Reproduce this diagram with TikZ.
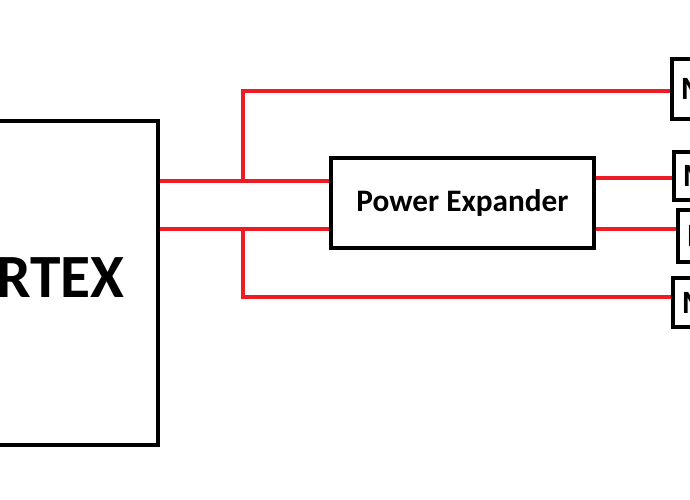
\documentclass[tikz,border=0pt]{standalone}
\usepackage{fontspec}
\setmainfont{Carlito}
\usetikzlibrary{positioning}

\begin{document}
\begin{tikzpicture}[
  x=0.02cm, y=-0.02cm,
  font=\bfseries,
  blk/.style={draw=black, line width=2.2pt, fill=white, inner sep=0pt},
  mbox/.style={blk, anchor=west, minimum width=1.2cm, text width=1.2cm,
    align=left, font=\bfseries\fontsize{18.5}{20}\selectfont},
  wire/.style={draw={rgb,255:red,237;green,28;blue,36}, line width=2pt},
]
\useasboundingbox (0,0) rectangle (690,500);
\clip (0,0) rectangle (690,500);
% ---------------- main unit (cut at the left edge) ----------------
\node[blk, minimum width=3.96cm, minimum height=6.48cm] (core) at (59,283) {};
\node[anchor=east, inner sep=0pt, font=\bfseries\fontsize{35}{38}\selectfont]
  (corename) at (125,278) {RTEX};
% ---------------- expander ----------------
\node[blk, minimum width=5.26cm, minimum height=1.8cm,
  font=\bfseries\fontsize{17.8}{20}\selectfont] (pe) at (462.5,203) {Power Expander};
% ---------------- outputs (cut at the right edge) ----------------
\node[mbox, minimum height=1.2cm]  (m1) at (670,89)    {\hspace*{0.18cm}M};
\node[mbox, minimum height=0.96cm] (m2) at (672,176)   {\hspace*{0.18cm}M};
\node[mbox, minimum height=1.04cm] (m3) at (676,236)   {\hspace*{0.18cm}M};
\node[mbox, minimum height=0.98cm] (m4) at (671,302.5) {\hspace*{0.18cm}M};
% ---------------- wiring ----------------
\coordinate (tapA) at (243,181);
\coordinate (tapB) at (243,229);
\draw[wire] (core.east |- tapA) -- (pe.west |- tapA);
\draw[wire] (core.east |- tapB) -- (pe.west |- tapB);
\draw[wire] (tapA) |- (m1.west |- 0,91);
\draw[wire] (tapB) |- (m4.west |- 0,297);
\draw[wire] (pe.east |- 0,178) -- (m2.west |- 0,178);
\draw[wire] (pe.east |- 0,229) -- (m3.west |- 0,229);
\end{tikzpicture}
\end{document}
